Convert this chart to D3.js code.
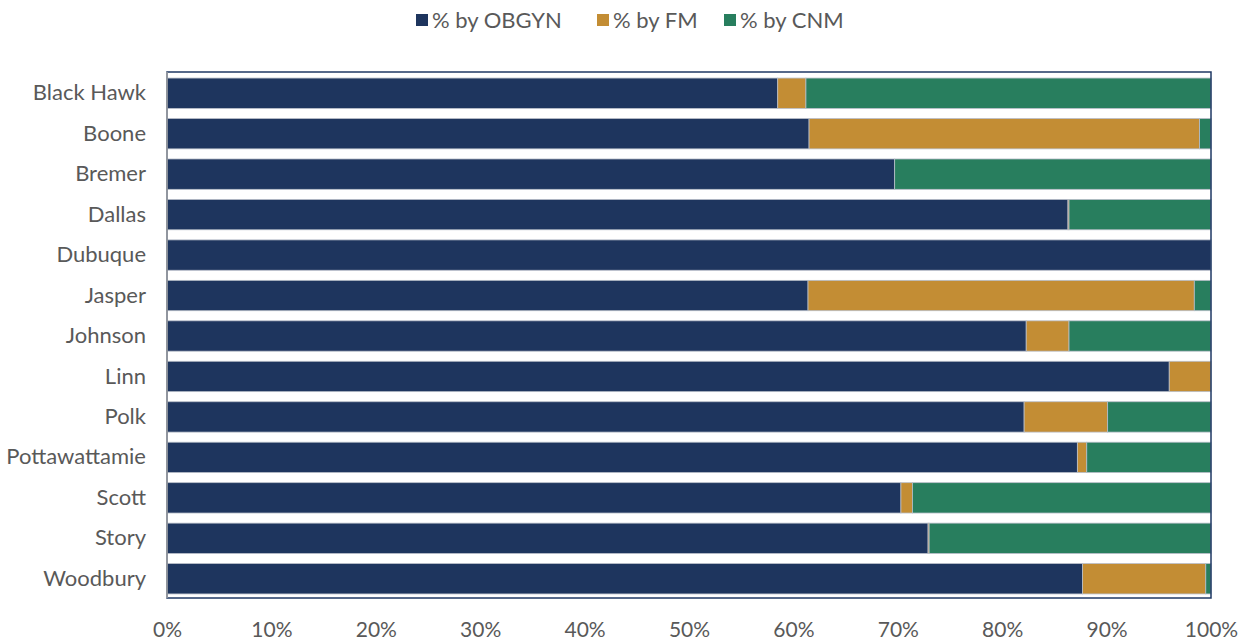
<!DOCTYPE html>
<html>
<head>
<meta charset="utf-8">
<script src="https://cdn.jsdelivr.net/npm/d3@7"></script>
<style>
  body { margin: 0; background: #fff; }
  text { font-family: Lato, "Open Sans", sans-serif; fill: #595959; }
</style>
</head>
<body>
<svg width="1249" height="641"></svg>
<script>
// counties, top to bottom
const counties = ['Black Hawk', 'Boone', 'Bremer', 'Dallas', 'Dubuque', 'Jasper', 'Johnson',
  'Linn', 'Polk', 'Pottawattamie', 'Scott', 'Story', 'Woodbury']

const obgyn = [58.5, 61.5, 69.7, 86.3, 100, 61.4, 82.3, 96.0, 82.1, 87.2, 70.3, 72.9, 87.7]
const fm    = [2.7, 37.4, 0, 0.1, 0, 37.0, 4.1, 4.0, 8.0, 0.9, 1.1, 0.1, 11.8]
const cnm   = [38.8, 1.1, 30.3, 13.6, 0, 1.6, 13.6, 0, 9.9, 11.9, 28.6, 27.0, 0.5]

const seriesNames = ['% by OBGYN', '% by FM', '% by CNM']
const colors = ['#1e355e', '#c38d34', '#287e5e']
const tickValues = [0, 10, 20, 30, 40, 50, 60, 70, 80, 90, 100]

const svg = d3.select('svg')

const plotLeft = 167, plotRight = 1211, plotTop = 73, plotBottom = 599

const rows = counties.map((c, i) => ({ county: c, obgyn: obgyn[i], fm: fm[i], cnm: cnm[i] }))
const stack = d3.stack().keys(['obgyn', 'fm', 'cnm'])(rows)

const x = d3.scaleLinear().domain([0, 100]).range([plotLeft, plotRight])
const y = d3.scaleBand().domain(counties).range([plotTop, plotBottom]).paddingInner(0.25).paddingOuter(0.125)

// bars
svg.append('g')
  .selectAll('g')
  .data(stack)
  .join('g')
    .attr('fill', (d, i) => colors[i])
  .selectAll('rect')
  .data(d => d)
  .join('rect')
    .attr('x', d => x(d[0]))
    .attr('y', d => y(d.data.county))
    .attr('width', d => Math.max(0, x(d[1]) - x(d[0])))
    .attr('height', y.bandwidth())
    .attr('stroke', '#b8bec9')
    .attr('stroke-width', 0.8)

// plot border
svg.append('rect')
  .attr('x', plotLeft)
  .attr('y', plotTop - 1)
  .attr('width', plotRight - plotLeft)
  .attr('height', plotBottom - plotTop)
  .attr('fill', 'none')
  .attr('stroke', '#1f3864')
  .attr('stroke-width', 1.5)

svg.append('line')
  .attr('x1', plotLeft).attr('x2', plotLeft)
  .attr('y1', plotTop - 1).attr('y2', plotBottom - 1)
  .attr('stroke', '#a6a6a6')
  .attr('stroke-width', 1.5)

// category labels
const yAxis = svg.append('g')
  .attr('transform', `translate(${plotLeft},0)`)
  .call(d3.axisLeft(y).tickSize(0).tickPadding(21))
yAxis.select('.domain').remove()
yAxis.selectAll('text').style('font-size', '22px').attr('fill', '#595959')

// percent ticks
const xAxis = svg.append('g')
  .attr('transform', `translate(0,${plotBottom})`)
  .call(d3.axisBottom(x).tickValues(tickValues).tickFormat(d => d + '%').tickSize(0).tickPadding(23))
xAxis.select('.domain').remove()
xAxis.selectAll('text').style('font-size', '21px').attr('fill', '#595959')

// legend
const legendX = [416, 597, 724]
const legend = svg.append('g')
  .selectAll('g')
  .data(seriesNames)
  .join('g')
    .attr('transform', (d, i) => `translate(${legendX[i]},14)`)
legend.append('rect')
  .attr('width', 12).attr('height', 12)
  .attr('fill', (d, i) => colors[i])
legend.append('text')
  .attr('x', 16).attr('y', 6)
  .attr('dy', '0.35em')
  .style('font-size', '22px')
  .text(d => d)
</script>
</body>
</html>
